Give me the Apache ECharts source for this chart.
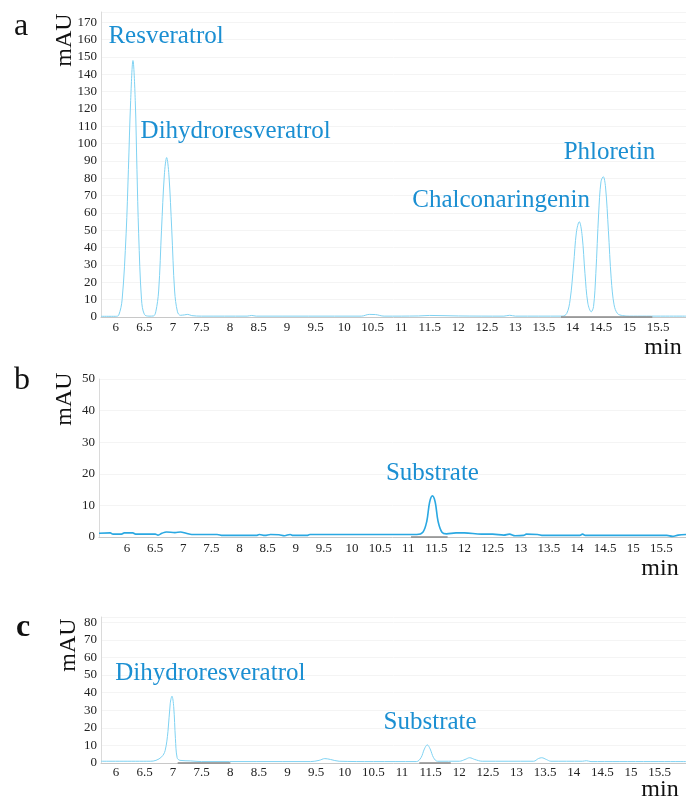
<!doctype html>
<html>
<head>
<meta charset="UTF-8">
<title>HPLC</title>
<script src="https://cdn.jsdelivr.net/npm/echarts@6/dist/echarts.min.js"></script>
<style>
  html, body { margin: 0; padding: 0; background: #fff; }
  #chart { width: 686px; height: 799px; }
</style>
</head>
<body>
<div id="chart"></div>
<script>
// retention time (min) / absorbance (mAU) pairs
var traceA = [
  [5.74, 0.4], [6.0, 0.4], [6.05, 1], [6.11, 10], [6.18, 48], [6.22, 85], [6.26, 125], [6.30, 148],
  [6.34, 125], [6.37, 85], [6.40, 48], [6.45, 10], [6.50, 1.5], [6.58, 0.5], [6.66, 0.6],
  [6.70, 3], [6.75, 15], [6.80, 50], [6.85, 82], [6.89, 92], [6.93, 82], [6.98, 50], [7.03, 15],
  [7.08, 3], [7.13, 1], [7.2, 1.2], [7.26, 1.5], [7.33, 0.8], [7.5, 0.5], [8.3, 0.5], [8.38, 0.9],
  [8.46, 0.5], [10.3, 0.5], [10.44, 1.5], [10.55, 1.4], [10.7, 0.5], [11.3, 0.6], [11.5, 0.9],
  [12.0, 0.6], [12.8, 0.5], [12.9, 1], [13.0, 0.5], [13.82, 0.5], [13.9, 2], [13.96, 10],
  [14.02, 30], [14.07, 49], [14.12, 55], [14.17, 47], [14.22, 25], [14.27, 8], [14.33, 3],
  [14.37, 6], [14.41, 25], [14.46, 60], [14.50, 78], [14.54, 81], [14.58, 75], [14.63, 50],
  [14.68, 22], [14.73, 7], [14.79, 2], [14.88, 0.8], [15.0, 0.5], [15.99, 0.5]
];
var traceB = [
  [5.5, 1.2], [5.7, 1.3], [5.75, 0.9], [5.9, 0.9], [5.95, 1.3], [6.1, 1.3], [6.15, 0.9], [6.5, 0.9],
  [6.55, 0.6], [6.62, 1.2], [6.7, 1.6], [6.85, 1.4], [6.95, 1.6], [7.05, 1.2], [7.15, 0.8],
  [7.6, 0.8], [7.7, 0.5], [8.3, 0.5], [8.35, 0.8], [8.45, 0.5], [8.55, 0.8], [8.7, 0.7],
  [8.8, 0.4], [8.9, 0.8], [8.95, 0.5], [9.2, 0.5], [9.25, 0.8], [10.0, 0.8], [11.15, 0.8],
  [11.26, 1.5], [11.33, 5], [11.38, 11], [11.43, 13], [11.48, 11], [11.53, 5], [11.6, 1.5],
  [11.68, 1.0], [11.85, 1.3], [12.0, 1.3], [12.3, 0.9], [12.5, 0.9], [12.7, 0.6], [12.8, 0.9],
  [12.9, 0.4], [13.05, 0.5], [13.1, 0.9], [13.3, 0.8], [13.4, 0.5], [14.05, 0.5], [14.1, 0.9],
  [14.15, 0.5], [15.6, 0.5], [15.7, 0.2], [15.8, 0.6], [15.94, 0.8]
];
var traceC = [
  [5.74, 1], [6.6, 1], [6.7, 1.5], [6.8, 3.5], [6.86, 7], [6.91, 18], [6.95, 34], [6.98, 38],
  [7.01, 32], [7.04, 14], [7.07, 3], [7.12, 1.5], [7.3, 1.2], [7.5, 0.8], [9.4, 0.8], [9.55, 1.5],
  [9.65, 2.5], [9.75, 2], [9.9, 1], [10.5, 0.8], [11.25, 0.8], [11.33, 3], [11.39, 8],
  [11.44, 10.3], [11.49, 8], [11.55, 3], [11.62, 1], [12.0, 1], [12.1, 2], [12.18, 3],
  [12.27, 2], [12.4, 1], [13.3, 1], [13.38, 2.5], [13.44, 3], [13.52, 2], [13.6, 1],
  [14.15, 1], [14.22, 1.3], [14.3, 0.8], [15.96, 0.8]
];

// integration baselines (start, end) drawn in grey on the time axis
var baseA = [[13.8, 15.4]];
var baseB = [[11.05, 11.7]];
var baseC = [[7.08, 8.0], [11.3, 11.85]];

var xTicks = [6, 6.5, 7, 7.5, 8, 8.5, 9, 9.5, 10, 10.5, 11, 11.5, 12, 12.5, 13, 13.5, 14, 14.5, 15, 15.5];
var yTicksA = [0, 10, 20, 30, 40, 50, 60, 70, 80, 90, 100, 110, 120, 130, 140, 150, 160, 170];
var yTicksB = [0, 10, 20, 30, 40, 50];
var yTicksC = [0, 10, 20, 30, 40, 50, 60, 70, 80];

// peak names and where they sit (time, mAU)
var peaksA = [['Resveratrol', 6.88, 162], ['Dihydroresveratrol', 8.1, 107], ['Chalconaringenin', 12.75, 67], ['Phloretin', 14.65, 95]];
var peaksB = [['Substrate', 11.43, 20]];
var peaksC = [['Dihydroresveratrol', 7.65, 51], ['Substrate', 11.49, 23]];

var serif = 'Liberation Serif';
var labelBlue = '#1b8fd2';

function xAxisOf(idx, min, max, margin) {
  return {
    gridIndex: idx, type: 'value', min: min, max: max,
    axisLine: { lineStyle: { color: '#c8c8c8', width: 1 } },
    axisTick: { show: false },
    splitLine: { show: false },
    axisLabel: { customValues: xTicks, color: '#222', fontFamily: serif, fontSize: 13, margin: margin }
  };
}

function yAxisOf(idx, max, ticks) {
  return {
    gridIndex: idx, type: 'value', min: 0, max: max, interval: 10,
    axisLine: { show: true, lineStyle: { color: '#dadada', width: 1 } },
    axisTick: { show: false },
    splitLine: { show: true, lineStyle: { color: '#f4f4f4', width: 1 } },
    axisLabel: { customValues: ticks, color: '#222', fontFamily: serif, fontSize: 13, margin: 4 }
  };
}

function peakMarks(list) {
  var out = [];
  for (var i = 0; i < list.length; i++) {
    out.push({ name: list[i][0], coord: [list[i][1], list[i][2]] });
  }
  return {
    symbol: 'circle', symbolSize: 0,
    label: { show: true, position: 'inside', formatter: '{b}', color: labelBlue, fontFamily: serif, fontSize: 25 },
    data: out
  };
}

function baseMarks(list) {
  var out = [];
  for (var i = 0; i < list.length; i++) {
    out.push([{ coord: [list[i][0], 0] }, { coord: [list[i][1], 0] }]);
  }
  return {
    symbol: ['none', 'none'], silent: true, label: { show: false },
    lineStyle: { color: '#8a8a8a', width: 1.5, type: 'solid' },
    data: out
  };
}

function traceOf(idx, data, color, width, peaks, bases) {
  return {
    type: 'line', xAxisIndex: idx, yAxisIndex: idx, data: data,
    showSymbol: false, smooth: 0.35, silent: true,
    lineStyle: { color: color, width: width },
    markPoint: peakMarks(peaks),
    markLine: baseMarks(bases)
  };
}

function txt(x, y, s, size, rot, bold) {
  return {
    type: 'text', x: x, y: y, rotation: rot || 0,
    style: { text: s, fill: '#111', font: (bold ? 'bold ' : '') + size + 'px "Liberation Serif"', align: 'center', verticalAlign: 'middle' }
  };
}

var chart = echarts.init(document.getElementById('chart'));
chart.setOption({
  animation: false,
  grid: [
    { left: 101, top: 12, right: 0, bottom: 482 },
    { left: 99, top: 379, right: 0, bottom: 262 },
    { left: 101, top: 617, right: 0, bottom: 36 }
  ],
  xAxis: [xAxisOf(0, 5.74, 15.99, 4), xAxisOf(1, 5.5, 15.94, 5), xAxisOf(2, 5.74, 15.96, 3)],
  yAxis: [yAxisOf(0, 176, yTicksA), yAxisOf(1, 50, yTicksB), yAxisOf(2, 83, yTicksC)],
  series: [
    traceOf(0, traceA, '#7fd2f2', 1, peaksA, baseA),
    traceOf(1, traceB, '#2aa8e2', 1.6, peaksB, baseB),
    traceOf(2, traceC, '#7fd2f2', 1, peaksC, baseC)
  ],
  graphic: [
    txt(21, 27, 'a', 32),
    txt(22, 381, 'b', 32),
    txt(23, 628, 'c', 32, 0, true),
    txt(65, 40, 'mAU', 24, Math.PI / 2),
    txt(65, 399, 'mAU', 24, Math.PI / 2),
    txt(69, 645, 'mAU', 24, Math.PI / 2),
    txt(663, 348, 'min', 24),
    txt(660, 569, 'min', 24),
    txt(660, 790, 'min', 24)
  ]
});
</script>
</body>
</html>
